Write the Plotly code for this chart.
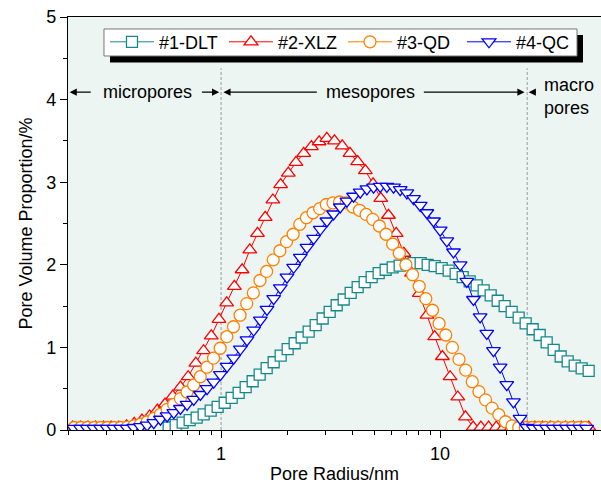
import numpy as np
import plotly.graph_objects as go

# ---------------- data ----------------
# Sampling grids: log10(start), log10(end), number of points (NMR log-spaced radii)
GRID_DLT = (-0.2393, 1.6785, 61)
GRID_XLZ = (-0.678, 1.679, 68)
GRID_QD = (-0.6705, 1.6619, 78)
GRID_QC = (-0.6722, 1.6694, 78)

r_dlt = np.logspace(*GRID_DLT)
r_xlz = np.logspace(*GRID_XLZ)
r_qd = np.logspace(*GRID_QD)
r_qc = np.logspace(*GRID_QC)

v_dlt = [0.03, 0.06, 0.09, 0.12, 0.15, 0.19, 0.235, 0.28, 0.33, 0.39,
         0.45, 0.52, 0.59, 0.67, 0.75, 0.82, 0.90, 0.98, 1.05, 1.12,
         1.19, 1.27, 1.35, 1.43, 1.51, 1.58, 1.66, 1.73, 1.79, 1.85,
         1.90, 1.94, 1.97, 1.99, 2.01, 2.02, 2.02, 2.00, 1.985, 1.96,
         1.93, 1.89, 1.85, 1.80, 1.75, 1.69, 1.63, 1.565, 1.50, 1.43,
         1.36, 1.29, 1.22, 1.15, 1.06, 0.97, 0.89, 0.83, 0.78, 0.745,
         0.715]

v_xlz = [0.035, 0.035, 0.035, 0.035, 0.035, 0.035, 0.035,
         0.05, 0.08, 0.12, 0.17, 0.24, 0.315, 0.41, 0.52, 0.645, 0.81,
         0.96, 1.14, 1.34, 1.54, 1.74, 1.94, 2.18, 2.38, 2.575, 2.785,
         2.97, 3.11, 3.24, 3.35, 3.43, 3.49, 3.53, 3.50, 3.44, 3.35,
         3.25, 3.14, 2.98, 2.805, 2.60, 2.38, 2.14, 1.90, 1.655, 1.39,
         1.13, 0.89, 0.645, 0.40, 0.16,
         0.035, 0.035, 0.035, 0.035, 0.035, 0.035, 0.035, 0.035,
         0.035, 0.035, 0.035, 0.035, 0.035, 0.035, 0.035, 0.035]

v_qd = [0.03, 0.03, 0.03, 0.03, 0.03, 0.03, 0.03, 0.03,
        0.035, 0.05, 0.07, 0.10, 0.14, 0.19, 0.25, 0.31, 0.38, 0.46,
        0.545, 0.645, 0.76, 0.87, 0.99, 1.13, 1.25, 1.39, 1.53, 1.66,
        1.81, 1.92, 2.06, 2.17, 2.28, 2.37, 2.49, 2.57, 2.63, 2.68,
        2.73, 2.75, 2.76, 2.75, 2.70, 2.66, 2.61, 2.55, 2.47, 2.37,
        2.25, 2.14, 2.00, 1.88, 1.74, 1.59, 1.45, 1.29, 1.15, 1.00,
        0.855, 0.725, 0.585, 0.465, 0.365, 0.265, 0.185, 0.10, 0.05,
        0.03, 0.03, 0.03, 0.03, 0.03, 0.03, 0.03, 0.03, 0.03, 0.03, 0.03]

v_qc = [0.02, 0.02, 0.02, 0.02, 0.02, 0.02, 0.02, 0.02, 0.02,
        0.03, 0.04, 0.06, 0.09, 0.13, 0.17, 0.21, 0.26, 0.31, 0.37,
        0.43, 0.50, 0.58, 0.67, 0.77, 0.87, 0.98, 1.09, 1.21, 1.33,
        1.46, 1.59, 1.72, 1.85, 1.97, 2.09, 2.21, 2.32, 2.43, 2.53,
        2.615, 2.70, 2.77, 2.83, 2.88, 2.92, 2.94, 2.95, 2.95, 2.94,
        2.91, 2.87, 2.80, 2.72, 2.63, 2.53, 2.42, 2.29, 2.155, 2.00,
        1.80, 1.58, 1.37, 1.17, 0.96, 0.76, 0.55, 0.34, 0.14, 0.03,
        0.02, 0.02, 0.02, 0.02, 0.02, 0.02, 0.02, 0.02, 0.02]

series_names = ["#1-DLT", "#2-XLZ", "#3-QD", "#4-QC"]
x_tick_vals = [1, 10]
x_tick_text = ["1", "10"]
x_minor_vals = [0.2, 0.3, 0.4, 0.5, 0.6, 0.7, 0.8, 0.9,
                2, 3, 4, 5, 6, 7, 8, 9, 20, 30, 40, 50]
boundaries = [1, 25]          # micro/meso and meso/macro limits (nm)
label_level = 4.09

# ---------------- figure ----------------
colors = ["#15898a", "#ff0000", "#ff8000", "#0000ff"]
symbols = ["square", "triangle-up", "circle", "triangle-down"]
sizes = [11, 12, 12, 12]
xs = [r_dlt, r_xlz, r_qd, r_qc]
ys = [v_dlt, v_xlz, v_qd, v_qc]

fig = go.Figure()

for b in boundaries:
    fig.add_trace(go.Scatter(x=[b, b], y=[0, 4.38], mode="lines",
                             line=dict(color="#a8a8a8", width=1.2, dash="3px,2px"),
                             showlegend=False, hoverinfo="skip"))

for name, x, y, c, s, sz in zip(series_names, xs, ys, colors, symbols, sizes):
    fig.add_trace(go.Scatter(
        x=x, y=y, mode="lines+markers", name=name,
        line=dict(color=c, width=1),
        marker=dict(symbol=s, size=sz, color="white", line=dict(color=c, width=1.3)),
    ))

L = np.log10
ann = []
def arrow(tip, tail):
    ann.append(dict(x=L(tip), y=label_level, ax=L(tail), ay=label_level,
                    xref="x", yref="y", axref="x", ayref="y", text="",
                    showarrow=True, arrowhead=2, arrowsize=1.3, arrowwidth=1.1,
                    arrowcolor="black", standoff=0, startstandoff=0))

arrow(0.2035, 0.258)
arrow(0.98, 0.805)
arrow(1.025, 2.78)
arrow(24.3, 8.3)
arrow(25.4, 27.8)

ann.append(dict(x=L(0.4635), y=label_level, xref="x", yref="y", text="micropores",
                showarrow=False, font=dict(size=18)))
ann.append(dict(x=L(4.83), y=label_level, xref="x", yref="y", text="mesopores",
                showarrow=False, font=dict(size=18)))
ann.append(dict(x=L(29.3), y=4.04, xref="x", yref="y", text="macro<br>pores",
                showarrow=False, xanchor="left", align="left", font=dict(size=18)))

fig.update_layout(
    width=601, height=484,
    margin=dict(l=68, r=0, t=17, b=54),
    paper_bgcolor="white", plot_bgcolor="#edf5f2",
    font=dict(family="Liberation Sans, Arial, sans-serif", size=17, color="black"),
    annotations=ann,
    legend=dict(orientation="h", x=0.0694, y=0.984, xanchor="left", yanchor="top",
                bgcolor="rgba(0,0,0,0)", borderwidth=0,
                font=dict(size=18), itemwidth=44, entrywidth=60,
                entrywidthmode="pixels"),
    shapes=[
        dict(type="rect", xref="paper", yref="paper",
             x0=0.0788, x1=0.9662, y0=0.8898, y1=0.9564,
             fillcolor="black", line=dict(width=0), layer="above"),
        dict(type="rect", xref="paper", yref="paper",
             x0=0.0675, x1=0.955, y0=0.9056, y1=0.971,
             fillcolor="white", line=dict(width=1, color="#777777"), layer="above"),
    ],
)

fig.update_xaxes(type="log", range=[L(0.2), L(54.3)], automargin=False,
                 tickmode="array", tickvals=x_tick_vals, ticktext=x_tick_text,
                 ticks="outside", ticklen=7, tickwidth=1.3, tickcolor="black",
                 showline=True, linecolor="black", linewidth=1.3, mirror=True,
                 showgrid=False, zeroline=False, tickfont=dict(size=18),
                 minor=dict(tickmode="array", tickvals=x_minor_vals, ticks="outside",
                            ticklen=4, tickwidth=1.3, tickcolor="black", showgrid=False),
                 title=dict(text="Pore Radius/nm", font=dict(size=18), standoff=4))
fig.update_yaxes(range=[0, 5], dtick=1, tick0=0, automargin=False,
                 ticks="outside", ticklen=7, tickwidth=1.3, tickcolor="black",
                 showline=True, linecolor="black", linewidth=1.3, mirror=False,
                 showgrid=False, zeroline=False, tickfont=dict(size=18),
                 minor=dict(dtick=0.5, ticks="outside", ticklen=4, tickwidth=1.3,
                            tickcolor="black", showgrid=False),
                 title=dict(text="Pore Volume Proportion/%", font=dict(size=18), standoff=8))

fig.write_html("out.html", config={"displayModeBar": False},
               post_script="document.body.style.margin='0';")
